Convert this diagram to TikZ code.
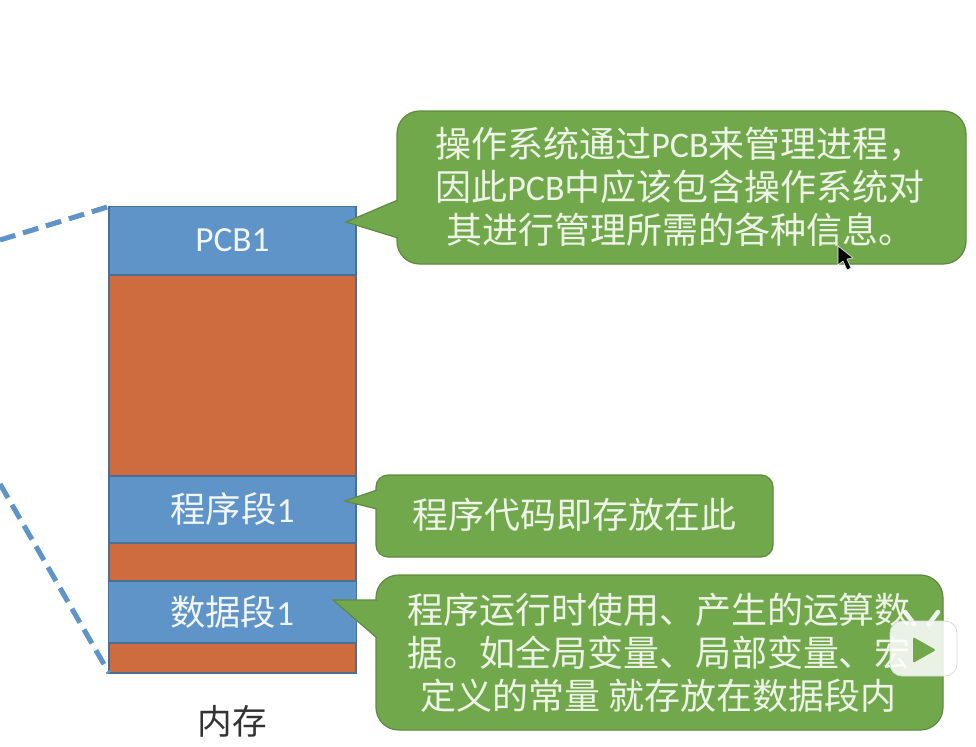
\documentclass[tikz,border=0pt]{standalone}
\usepackage{fontspec}
\setmainfont{Carlito}
\newfontfamily\cjk{Noto Sans CJK SC}
\usepackage{xcolor}
\usetikzlibrary{positioning}

\definecolor{barblue}{HTML}{5F94C8}
\definecolor{barline}{HTML}{4A6F96}
\definecolor{barorange}{HTML}{CE6C40}
\definecolor{tipgreen}{HTML}{72A84C}
\definecolor{tipline}{HTML}{5E8A40}
\definecolor{tiptext}{HTML}{EDF3E6}

\tikzset{
  memblock/.style={draw=barline, line width=1pt, minimum width=185.25pt, inner sep=0pt, outer sep=0pt},
  codeblock/.style={memblock, fill=barblue, text=white!92!barblue, font=\fontsize{26.5}{32}\selectfont},
  freeblock/.style={memblock, fill=barorange},
  tipbox/.style={draw=tipline, fill=tipgreen, line width=0.9pt},
  tiplabel/.style={text=tiptext, align=center, inner sep=0pt, font=\fontsize{27}{32.2}\selectfont\cjk},
  zoomline/.style={draw=barblue, line width=3.8pt, dash pattern=on 12pt off 6pt}
}

\begin{document}
\begin{tikzpicture}[x=0.75pt, y=-0.75pt]
\useasboundingbox (0,0) rectangle (976,747);

% Memory column
\node[codeblock, minimum height=51pt] (pcb) at (232.5,240.5) {PCB1};
\node[freeblock, minimum height=150.75pt] (gapa) at (232.5,375.5) {};
\node[codeblock, minimum height=50.25pt] (code) at (232.5,509.5) {{\cjk 程序段}1};
\node[freeblock, minimum height=28.5pt] (gapb) at (232.5,562) {};
\node[freeblock, minimum height=22.5pt] (gapc) at (232.5,658) {};
\node[codeblock, minimum width=186pt, minimum height=46.5pt] (data) at (232.2,612) {{\cjk 数据段}1};
\node[font=\fontsize{26}{32}\selectfont\cjk, text=black!80] (mem) at (232.5,721) {内存};

% Zoom guide lines
\coordinate (guidea) at (0,240);
\coordinate (guideb) at (0,484);
\draw[zoomline] (guidea) -- (pcb.north west);
\draw[zoomline] (guideb) -- (gapc.south west);

% PCB callout
\draw[tipbox, rounded corners=17pt] (397,111) rectangle (966,264);
\draw[tipbox] (398,200) -- (346,222) -- (398,238);
\node[tiplabel] (tippcb) at (680,187) {操作系统通过{\fontfamily{\rmdefault}\selectfont PCB}来管理进程，\\因此{\fontfamily{\rmdefault}\selectfont PCB}中应该包含操作系统对\\其进行管理所需的各种信息。};

% Code callout
\draw[tipbox, rounded corners=9pt] (376,475) rectangle (773,557);
\draw[tipbox] (377,490) -- (345,501) -- (377,509);
\node[tiplabel] (tipcode) at (574,515) {程序代码即存放在此};

% Data callout
\draw[tipbox, rounded corners=17pt] (376,575) rectangle (943,730);
\draw[tipbox] (377,600) -- (333,600) -- (377,638);
\node[tiplabel] (tipdata) at (659,653) {程序运行时使用、产生的运算数\\据。如全局变量、局部变量、宏\\定义的常量 就存放在数据段内};

% Mouse pointer
\fill[black, draw=white, line width=0.4pt] (838,246) -- (838,265) -- (843,261) -- (847,270) -- (851,268) -- (847,259) -- (853,258) -- cycle;

% Player badge
\draw[white, opacity=0.9, line width=3.4pt, line cap=round] (905,612) -- (914,624) (938,612) -- (929,624);
\draw[black!15, fill=white, fill opacity=0.85, line width=0.6pt, rounded corners=9pt] (890,621) rectangle (957,676);
\fill[tipgreen, rounded corners=1.5pt] (913,637) -- (936,650) -- (913,663) -- cycle;

\end{tikzpicture}
\end{document}
